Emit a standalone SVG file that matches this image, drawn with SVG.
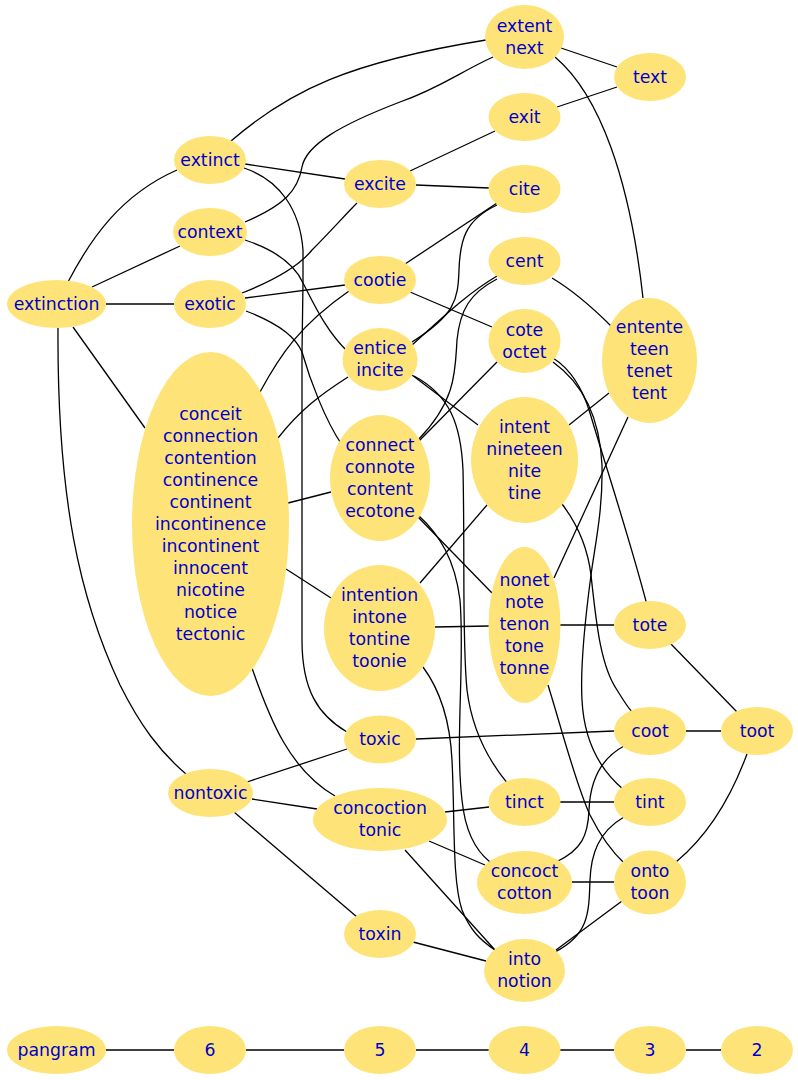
<svg xmlns="http://www.w3.org/2000/svg" width="798" height="1080" viewBox="0 0 798 1080">
<style>
.e{fill:none;stroke:#000;stroke-width:1.3}
.n ellipse{fill:#fee478;stroke:none}
.n text{font-family:"DejaVu Sans","Liberation Sans",sans-serif;font-size:17.3px;fill:#0000cd;text-anchor:middle}
</style>
<rect width="798" height="1080" fill="#fff"/>
<g id="edges">
<path class="e" d="M68,282 C90,240 120,195 177,170"/>
<path class="e" d="M92,287 L180,246"/>
<path class="e" d="M106,304 L174,304"/>
<path class="e" d="M73,327 L145,428"/>
<path class="e" d="M58,328 C57,500 80,600 120,685 C140,725 160,752 186,774"/>
<path class="e" d="M231,141 C290,90 350,62 486,40"/>
<path class="e" d="M245,164 L345,179"/>
<path class="e" d="M244,168 C280,180 300,210 303,250 L303,283 C312,300 325,330 348,352"/>
<path class="e" d="M245,222 C285,205 298,190 302,167 C306,145 340,125 400,102 C440,88 460,72 493,57"/>
<path class="e" d="M245,240 C275,250 295,265 303,283 L302,352 C310,380 325,420 342,445"/>
<path class="e" d="M242,293 C275,280 300,265 312,250 C330,232 345,215 357,203"/>
<path class="e" d="M245,298 L345,285"/>
<path class="e" d="M246,311 C275,322 295,335 302,352 L302,640 C302,690 318,715 347,732"/>
<path class="e" d="M260,392 C280,355 300,325 349,291"/>
<path class="e" d="M278,438 C300,410 320,395 348,377"/>
<path class="e" d="M288,503 L331,492"/>
<path class="e" d="M286,569 L331,598"/>
<path class="e" d="M252,668 C270,720 290,770 335,796"/>
<path class="e" d="M247,782 L347,749"/>
<path class="e" d="M252,799 L317,809"/>
<path class="e" d="M234,812 L357,917"/>
<path class="e" d="M561,48 L617,67"/>
<path class="e" d="M555,57 C600,95 630,180 643,298"/>
<path class="e" d="M617,87 L557,107"/>
<path class="e" d="M495,131 L410,171"/>
<path class="e" d="M416,185 L489,188"/>
<path class="e" d="M497,203 L405,264"/>
<path class="e" d="M497,205 C465,220 460,240 459,270 C458,300 455,315 412,342"/>
<path class="e" d="M410,292 L492,327"/>
<path class="e" d="M552,278 C572,290 592,307 611,326"/>
<path class="e" d="M497,276 C465,295 440,320 412,345"/>
<path class="e" d="M497,279 C470,293 460,310 457,340 C455,370 457,400 418,440"/>
<path class="e" d="M412,375 L478,425"/>
<path class="e" d="M414,376 C450,395 461,425 463,470 C465,560 462,640 467,690 C472,730 488,760 508,784"/>
<path class="e" d="M553,358 C572,370 583,390 590,413 C610,480 630,540 647,605"/>
<path class="e" d="M553,362 C585,385 600,420 602,465 C603,510 595,545 591,575 C596,620 600,665 617,690 C622,698 626,705 632,712"/>
<path class="e" d="M497,362 L418,442"/>
<path class="e" d="M609,393 L569,425"/>
<path class="e" d="M628,417 L554,578"/>
<path class="e" d="M562,504 C578,525 588,550 591,575 C585,620 580,665 582,700 C584,740 600,770 624,790"/>
<path class="e" d="M487,505 L420,583"/>
<path class="e" d="M418,517 L492,593"/>
<path class="e" d="M418,515 C440,535 455,560 460,600 C465,660 455,740 462,800 C465,830 475,850 490,862"/>
<path class="e" d="M435,627 L489,626"/>
<path class="e" d="M423,667 C440,690 450,720 452,760 C455,820 452,880 462,910 C470,930 480,940 495,950"/>
<path class="e" d="M560,625 L614,625"/>
<path class="e" d="M548,685 C562,730 576,785 590,815 C600,835 610,850 625,864"/>
<path class="e" d="M670,643 L737,712"/>
<path class="e" d="M416,739 L614,731"/>
<path class="e" d="M686,731 L721,731"/>
<path class="e" d="M624,746 C598,760 590,785 589,810 C588,835 582,850 556,862"/>
<path class="e" d="M445,812 L489,807"/>
<path class="e" d="M429,841 L485,865"/>
<path class="e" d="M405,850 L495,950"/>
<path class="e" d="M560,802 L614,802"/>
<path class="e" d="M624,817 C598,832 591,855 590,880 C589,915 588,935 555,952"/>
<path class="e" d="M572,882 L614,882"/>
<path class="e" d="M622,901 L556,950"/>
<path class="e" d="M676,862 C705,838 730,800 747,754"/>
<path class="e" d="M413,942 L486,961"/>
<path class="e" d="M106,1050 L174,1050"/>
<path class="e" d="M246,1050 L344,1050"/>
<path class="e" d="M416,1050 L489,1050"/>
<path class="e" d="M560,1050 L614,1050"/>
<path class="e" d="M686,1050 L721,1050"/>
</g>
<g id="n_extinction" class="n"><ellipse cx="56.5" cy="304" rx="49.5" ry="24"/><text x="56.5" y="309.5">extinction</text></g>
<g id="n_extinct" class="n"><ellipse cx="210" cy="160" rx="36" ry="24"/><text x="210" y="165.5">extinct</text></g>
<g id="n_context" class="n"><ellipse cx="210" cy="232" rx="37" ry="24"/><text x="210" y="237.5">context</text></g>
<g id="n_exotic" class="n"><ellipse cx="210" cy="304" rx="36" ry="24"/><text x="210" y="309.5">exotic</text></g>
<g id="n_conceit" class="n"><ellipse cx="210.5" cy="524" rx="78.5" ry="172"/><text x="210.5" y="419.5"><tspan x="210.5">conceit</tspan><tspan x="210.5" dy="22">connection</tspan><tspan x="210.5" dy="22">contention</tspan><tspan x="210.5" dy="22">continence</tspan><tspan x="210.5" dy="22">continent</tspan><tspan x="210.5" dy="22">incontinence</tspan><tspan x="210.5" dy="22">incontinent</tspan><tspan x="210.5" dy="22">innocent</tspan><tspan x="210.5" dy="22">nicotine</tspan><tspan x="210.5" dy="22">notice</tspan><tspan x="210.5" dy="22">tectonic</tspan></text></g>
<g id="n_nontoxic" class="n"><ellipse cx="210.5" cy="793" rx="42.5" ry="24"/><text x="210.5" y="798.5">nontoxic</text></g>
<g id="n_extent" class="n"><ellipse cx="524.5" cy="37" rx="39.5" ry="32"/><text x="524.5" y="31.5"><tspan x="524.5">extent</tspan><tspan x="524.5" dy="22">next</tspan></text></g>
<g id="n_text" class="n"><ellipse cx="650" cy="77" rx="36" ry="24"/><text x="650" y="82.5">text</text></g>
<g id="n_exit" class="n"><ellipse cx="524.5" cy="117" rx="36" ry="24"/><text x="524.5" y="122.5">exit</text></g>
<g id="n_excite" class="n"><ellipse cx="380" cy="184" rx="36" ry="24"/><text x="380" y="189.5">excite</text></g>
<g id="n_cite" class="n"><ellipse cx="524.5" cy="189" rx="36" ry="24"/><text x="524.5" y="194.5">cite</text></g>
<g id="n_cootie" class="n"><ellipse cx="380" cy="280" rx="36" ry="24"/><text x="380" y="285.5">cootie</text></g>
<g id="n_cent" class="n"><ellipse cx="524.5" cy="261" rx="36" ry="24"/><text x="524.5" y="266.5">cent</text></g>
<g id="n_entice" class="n"><ellipse cx="380" cy="359.5" rx="37.5" ry="31.5"/><text x="380" y="354"><tspan x="380">entice</tspan><tspan x="380" dy="22">incite</tspan></text></g>
<g id="n_cote" class="n"><ellipse cx="524.5" cy="341" rx="36" ry="32"/><text x="524.5" y="335.5"><tspan x="524.5">cote</tspan><tspan x="524.5" dy="22">octet</tspan></text></g>
<g id="n_entente" class="n"><ellipse cx="649.5" cy="360.5" rx="47.5" ry="62.5"/><text x="649.5" y="333"><tspan x="649.5">entente</tspan><tspan x="649.5" dy="22">teen</tspan><tspan x="649.5" dy="22">tenet</tspan><tspan x="649.5" dy="22">tent</tspan></text></g>
<g id="n_intent" class="n"><ellipse cx="524.5" cy="460" rx="53.5" ry="63"/><text x="524.5" y="432.5"><tspan x="524.5">intent</tspan><tspan x="524.5" dy="22">nineteen</tspan><tspan x="524.5" dy="22">nite</tspan><tspan x="524.5" dy="22">tine</tspan></text></g>
<g id="n_connect" class="n"><ellipse cx="380" cy="478" rx="50" ry="63"/><text x="380" y="450.5"><tspan x="380">connect</tspan><tspan x="380" dy="22">connote</tspan><tspan x="380" dy="22">content</tspan><tspan x="380" dy="22">ecotone</tspan></text></g>
<g id="n_intention" class="n"><ellipse cx="379.5" cy="628" rx="55.5" ry="63"/><text x="379.5" y="600.5"><tspan x="379.5">intention</tspan><tspan x="379.5" dy="22">intone</tspan><tspan x="379.5" dy="22">tontine</tspan><tspan x="379.5" dy="22">toonie</tspan></text></g>
<g id="n_nonet" class="n"><ellipse cx="524.5" cy="625" rx="36" ry="78"/><text x="524.5" y="586"><tspan x="524.5">nonet</tspan><tspan x="524.5" dy="22">note</tspan><tspan x="524.5" dy="22">tenon</tspan><tspan x="524.5" dy="22">tone</tspan><tspan x="524.5" dy="22">tonne</tspan></text></g>
<g id="n_tote" class="n"><ellipse cx="650" cy="625" rx="36" ry="24"/><text x="650" y="630.5">tote</text></g>
<g id="n_toxic" class="n"><ellipse cx="380" cy="739.5" rx="36" ry="24"/><text x="380" y="745">toxic</text></g>
<g id="n_coot" class="n"><ellipse cx="650" cy="731" rx="36" ry="24"/><text x="650" y="736.5">coot</text></g>
<g id="n_toot" class="n"><ellipse cx="757" cy="731" rx="36" ry="24"/><text x="757" y="736.5">toot</text></g>
<g id="n_concoction" class="n"><ellipse cx="380" cy="819.5" rx="67" ry="31.5"/><text x="380" y="814"><tspan x="380">concoction</tspan><tspan x="380" dy="22">tonic</tspan></text></g>
<g id="n_tinct" class="n"><ellipse cx="524.5" cy="802" rx="36" ry="24"/><text x="524.5" y="807.5">tinct</text></g>
<g id="n_tint" class="n"><ellipse cx="650" cy="802" rx="36" ry="24"/><text x="650" y="807.5">tint</text></g>
<g id="n_concoct" class="n"><ellipse cx="524.5" cy="882.5" rx="47.5" ry="31.5"/><text x="524.5" y="877"><tspan x="524.5">concoct</tspan><tspan x="524.5" dy="22">cotton</tspan></text></g>
<g id="n_onto" class="n"><ellipse cx="650" cy="882.5" rx="36" ry="32"/><text x="650" y="877"><tspan x="650">onto</tspan><tspan x="650" dy="22">toon</tspan></text></g>
<g id="n_toxin" class="n"><ellipse cx="380" cy="934" rx="36" ry="24"/><text x="380" y="939.5">toxin</text></g>
<g id="n_into" class="n"><ellipse cx="524.5" cy="970.5" rx="40.5" ry="31.5"/><text x="524.5" y="965"><tspan x="524.5">into</tspan><tspan x="524.5" dy="22">notion</tspan></text></g>
<g id="n_pangram" class="n"><ellipse cx="56.5" cy="1050" rx="49.5" ry="24"/><text x="56.5" y="1055.5">pangram</text></g>
<g id="n_6" class="n"><ellipse cx="210" cy="1050" rx="36" ry="24"/><text x="210" y="1055.5">6</text></g>
<g id="n_5" class="n"><ellipse cx="380" cy="1050" rx="36" ry="24"/><text x="380" y="1055.5">5</text></g>
<g id="n_4" class="n"><ellipse cx="524.5" cy="1050" rx="36" ry="24"/><text x="524.5" y="1055.5">4</text></g>
<g id="n_3" class="n"><ellipse cx="650" cy="1050" rx="36" ry="24"/><text x="650" y="1055.5">3</text></g>
<g id="n_2" class="n"><ellipse cx="757" cy="1050" rx="36" ry="24"/><text x="757" y="1055.5">2</text></g>
</svg>
